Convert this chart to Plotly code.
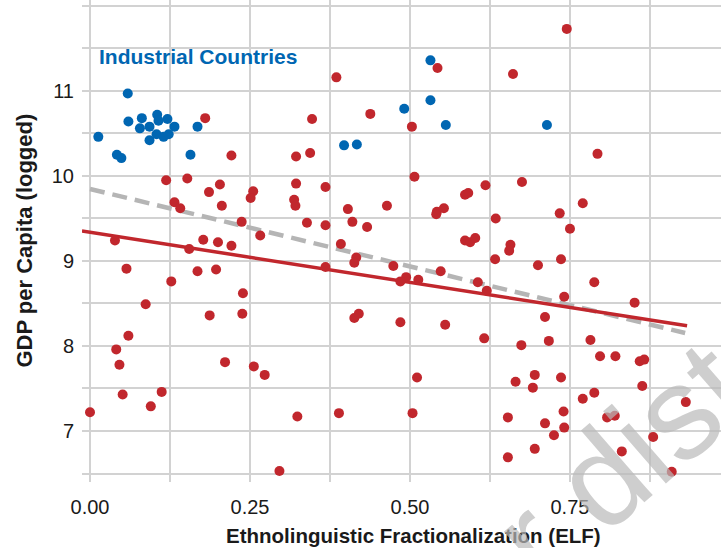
import plotly.graph_objects as go

# ---------------- data ----------------
ind_x = [0.013, 0.042, 0.049, 0.059, 0.060, 0.078, 0.081, 0.093, 0.093, 0.105, 0.107, 0.104, 0.115,
         0.121, 0.123, 0.132, 0.157, 0.168, 0.397, 0.417, 0.491, 0.532, 0.532, 0.556, 0.714]
ind_y = [10.46, 10.25, 10.21, 10.97, 10.64, 10.56, 10.68, 10.58, 10.42, 10.72, 10.65, 10.49, 10.46,
         10.67, 10.49, 10.58, 10.25, 10.58, 10.36, 10.37, 10.79, 11.36, 10.89, 10.60, 10.60]

oth_x = [0.180, 0.347, 0.221, 0.322, 0.344, 0.119, 0.152, 0.203, 0.186, 0.255, 0.251, 0.322, 0.319,
         0.321, 0.368, 0.745, 0.385, 0.543, 0.661, 0.438, 0.503, 0.507, 0.586, 0.591, 0.618, 0.675,
         0.793, 0.132, 0.141, 0.206, 0.237, 0.339, 0.368, 0.266, 0.039, 0.177, 0.200, 0.221, 0.155,
         0.057, 0.168, 0.197, 0.368, 0.127, 0.239, 0.087, 0.187, 0.238, 0.403, 0.464, 0.410, 0.433,
         0.542, 0.541, 0.553, 0.634, 0.734, 0.750, 0.586, 0.594, 0.602, 0.657, 0.655, 0.633, 0.736,
         0.700, 0.392, 0.416, 0.413, 0.474, 0.494, 0.485, 0.513, 0.548, 0.606, 0.620, 0.741, 0.413,
         0.420, 0.485, 0.555, 0.711, 0.770, 0.788, 0.851, 0.060, 0.041, 0.046, 0.051, 0.000, 0.095,
         0.112, 0.211, 0.256, 0.273, 0.324, 0.296, 0.389, 0.504, 0.616, 0.674, 0.717, 0.511, 0.665,
         0.695, 0.692, 0.736, 0.653, 0.711, 0.740, 0.741, 0.725, 0.695, 0.653, 0.782, 0.797, 0.821,
         0.859, 0.866, 0.863, 0.770, 0.788, 0.808, 0.820, 0.931, 0.880, 0.831, 0.909]
oth_y = [10.68, 10.67, 10.24, 10.23, 10.27, 9.95, 9.97, 9.90, 9.81, 9.82, 9.74, 9.91, 9.72,
         9.65, 9.87, 11.73, 11.16, 11.27, 11.20, 10.73, 10.58, 9.99, 9.78, 9.80, 9.89, 9.93,
         10.26, 9.69, 9.62, 9.65, 9.46, 9.45, 9.42, 9.30, 9.24, 9.25, 9.22, 9.18, 9.14,
         8.91, 8.88, 8.90, 8.93, 8.76, 8.62, 8.49, 8.36, 8.38, 9.61, 9.65, 9.46, 9.40,
         9.58, 9.55, 9.62, 9.50, 9.56, 9.38, 9.24, 9.22, 9.27, 9.19, 9.12, 9.02, 9.02,
         8.95, 9.20, 9.04, 8.98, 8.94, 8.81, 8.76, 8.78, 8.88, 8.75, 8.65, 8.58, 8.33,
         8.38, 8.28, 8.25, 8.34, 9.68, 8.75, 8.51, 8.12, 7.96, 7.78, 7.43, 7.22, 7.29,
         7.46, 7.81, 7.76, 7.66, 7.17, 6.53, 7.21, 7.21, 8.09, 8.01, 8.06, 7.63, 7.58,
         7.66, 7.51, 7.63, 7.16, 7.09, 7.23, 7.04, 6.95, 6.79, 6.69, 8.07, 7.88, 7.88,
         7.82, 7.84, 7.53, 7.38, 7.45, 7.16, 7.18, 7.34, 6.93, 6.76, 6.52]

# fitted lines (intercept, slope, x extent)
fit_all = {"b0": 9.338, "b1": -1.178, "x0": -0.0125, "x1": 0.933}
fit_non = {"b0": 9.847, "b1": -1.822, "x0": 0.0, "x1": 0.930}

x_tickvals = [0, 0.125, 0.25, 0.375, 0.5, 0.625, 0.75, 0.875]
x_ticktext = ["0.00", "", "0.25", "", "0.50", "", "0.75", ""]
y_tickvals = [6.5, 7, 7.5, 8, 8.5, 9, 9.5, 10, 10.5, 11, 11.5, 12]
y_ticktext = ["", "7", "", "8", "", "9", "", "10", "", "11", "", ""]

BLUE = "#0066B2"
RED = "#C1272D"
GRAY = "#B5B5B5"
GRID = "#D2D2D2"
FONT = "Liberation Sans, Arial, sans-serif"

fig = go.Figure()

fig.add_trace(go.Scatter(
    x=[fit_non["x0"], fit_non["x1"]],
    y=[fit_non["b0"] + fit_non["b1"] * fit_non["x0"], fit_non["b0"] + fit_non["b1"] * fit_non["x1"]],
    mode="lines", line=dict(color=GRAY, width=4.5, dash="15px,8px"), hoverinfo="skip"))
fig.add_trace(go.Scatter(
    x=[fit_all["x0"], fit_all["x1"]],
    y=[fit_all["b0"] + fit_all["b1"] * fit_all["x0"], fit_all["b0"] + fit_all["b1"] * fit_all["x1"]],
    mode="lines", line=dict(color=RED, width=3.5), hoverinfo="skip"))
fig.add_trace(go.Scatter(x=oth_x, y=oth_y, mode="markers",
                         marker=dict(color=RED, size=10, line=dict(width=0))))
fig.add_trace(go.Scatter(x=ind_x, y=ind_y, mode="markers",
                         marker=dict(color=BLUE, size=10, line=dict(width=0))))

fig.update_layout(
    width=721, height=548,
    margin=dict(l=82, r=0, t=0, b=66),
    paper_bgcolor="white", plot_bgcolor="white",
    showlegend=False,
    font=dict(family=FONT, size=20, color="#1a1a1a"),
    xaxis=dict(range=[-0.0125, 0.986], tickvals=x_tickvals, ticktext=x_ticktext,
               showgrid=True, gridcolor=GRID, gridwidth=1.6, zeroline=False, showline=False,
               ticks="inside", ticklen=8, tickwidth=1.6, tickcolor=GRID,
               tickfont=dict(size=20, color="#1a1a1a"), ticklabelstandoff=11),
    yaxis=dict(range=[6.4, 12.07], tickvals=y_tickvals, ticktext=y_ticktext,
               showgrid=True, gridcolor=GRID, gridwidth=1.6, zeroline=False, showline=False,
               ticks="inside", ticklen=8, tickwidth=1.6, tickcolor=GRID,
               tickfont=dict(size=20, color="#1a1a1a"), ticklabelstandoff=7),
    annotations=[
        dict(text="<b>Industrial Countries</b>", x=0.011, y=11.4, xref="x", yref="y",
             xanchor="left", yanchor="middle", showarrow=False,
             font=dict(family=FONT, size=21, color=BLUE)),
        dict(text="<b>Ethnolinguistic Fractionalization (ELF)</b>", x=0.518, y=-0.11,
             xref="paper", yref="paper", xanchor="center", yanchor="middle", showarrow=False,
             font=dict(family=FONT, size=20.5, color="#1a1a1a")),
        dict(text="<b>GDP per Capita (logged)</b>", x=-0.0915, y=0.5, textangle=-90,
             xref="paper", yref="paper", xanchor="center", yanchor="middle", showarrow=False,
             font=dict(family=FONT, size=22, color="#1a1a1a")),
        dict(text="or dist", x=0.80, y=-0.01, textangle=-41,
             xref="paper", yref="paper", xanchor="center", yanchor="middle", showarrow=False,
             font=dict(family=FONT, size=132, color="rgba(185,185,185,0.7)")),
    ],
)

fig.write_html("out.html")
